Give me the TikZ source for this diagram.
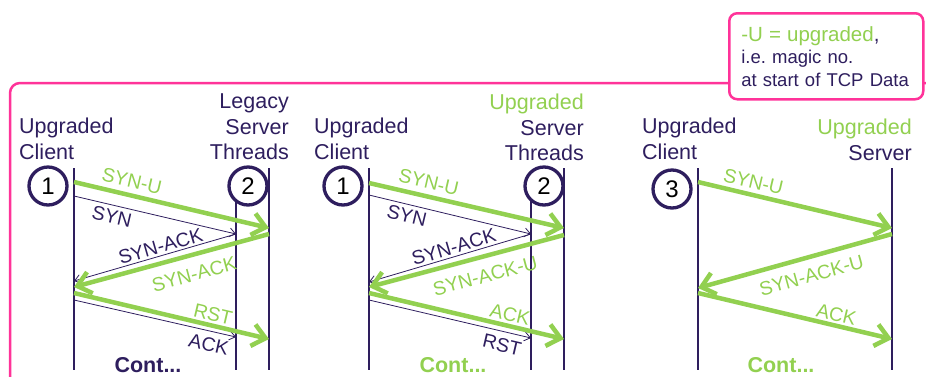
\documentclass[tikz,border=0pt]{standalone}
\usepackage{fontspec}
\setmainfont{Liberation Sans}
\usetikzlibrary{arrows.meta}
\definecolor{ink}{HTML}{2E1E5E}
\definecolor{upg}{HTML}{92D050}
\definecolor{framepink}{HTML}{FF3399}
\newcommand{\partfont}{\fontsize{21.5}{25.5}\selectfont}
\newcommand{\msgfont}{\fontsize{19.5}{21}\selectfont}
\newcommand{\notefont}{\fontsize{18.5}{22.5}\selectfont}
\newcommand{\notehead}{\fontsize{20.5}{22.5}\selectfont}
\newcommand{\numfont}{\fontsize{24}{26}\selectfont}
\frenchspacing

\begin{document}
\begin{tikzpicture}[x=1pt,y=-1pt,
  lifeline/.style={ink, line width=1.8pt},
  bigline/.style={upg, line width=4.5pt},
  bigmsg/.style={bigline, -{Straight Barb[length=13pt,width=22pt]}},
  bigback/.style={bigline, {Straight Barb[length=13pt,width=22pt]}-},
  thinline/.style={ink, line width=0.8pt},
  thinmsg/.style={thinline, -{Straight Barb[length=6pt,width=9pt]}},
  thinback/.style={thinline, {Straight Barb[length=6pt,width=9pt]}-},
  lab/.style={font=\msgfont, sloped, inner sep=1pt},
  part/.style={font=\partfont, text=ink, inner sep=0pt},
  stepnum/.style={circle, draw=ink, line width=3.3pt, fill=white, minimum size=38pt,
                  inner sep=0pt, font=\numfont, text=black},
  cont/.style={font=\partfont\bfseries, inner sep=0pt},
]
\useasboundingbox (0,0) rectangle (926,376);
\clip (0,0) rectangle (926,376);

% outer frame
\draw[framepink, line width=2.5pt, rounded corners=10pt] (10,400) -- (10,83) -- (960,83);

% legend note
\node[draw=framepink, fill=white, line width=2.5pt, rounded corners=8pt,
      anchor=north west, minimum width=192pt, minimum height=86pt,
      text width=170pt, inner xsep=12pt, align=left, font=\notefont, text=ink]
  (note) at (728,12) {{\notehead\color{upg}-U = upgraded}{\notehead,}\\i.e. magic no.\\at start of TCP Data};

% ---------- case 1: upgraded client, legacy server ----------
\node[part, anchor=north west, align=left] (c1lab) at (19,118) {Upgraded\\Client};
\node[part, anchor=north east, align=right] (s1lab) at (289,94) {Legacy\\Server\\Threads};
\coordinate (c1top) at (74,168);  \coordinate (c1bot) at (74,370);
\coordinate (t1top) at (236,200); \coordinate (t1bot) at (236,370);
\coordinate (s1top) at (269,168); \coordinate (s1bot) at (269,370);
\draw[lifeline] (c1top) -- (c1bot);
\draw[lifeline] (t1top) -- (t1bot);
\draw[lifeline] (s1top) -- (s1bot);
\node[stepnum] (n1) at (48,186) {1};
\node[stepnum] (n2) at (248,186) {2};

\coordinate (c1a) at (74,182);  \coordinate (s1a) at (269,228);
\coordinate (c1b) at (74,196);  \coordinate (t1b) at (236,234);
\coordinate (c1c) at (74,281);  \coordinate (t1c) at (236,234);
\coordinate (c1d) at (74,287);  \coordinate (s1d) at (269,234);
\coordinate (c1e) at (74,293);  \coordinate (s1e) at (269,339);
\coordinate (c1f) at (74,300);  \coordinate (t1f) at (236,337);

\draw[thinmsg] (c1b) -- node[lab, pos=.25, below=3pt, text=ink] {SYN} (t1b);
\draw[thinback] (c1c) -- node[lab, pos=.55, above=1pt, text=ink] {SYN-ACK} (t1c);
\draw[thinmsg] (c1f) -- node[lab, pos=.85, below=5pt, text=ink] {ACK} (t1f);
\draw[bigmsg] (c1a) -- node[lab, pos=.28, above=4pt, text=upg] {SYN-U} (s1a);
\draw[bigback] (c1d) -- node[lab, pos=.59, below=9pt, text=upg] {SYN-ACK} (s1d);
\draw[bigmsg] (c1e) -- node[lab, pos=.70, above=1pt, text=upg] {RST} (s1e);
\node[cont, text=ink] (k1) at (148,365) {Cont...};

% ---------- case 2: upgraded client, upgraded server ----------
\node[part, anchor=north west, align=left] (c2lab) at (314,118) {Upgraded\\Client};
\node[part, anchor=north east, align=right] (s2lab) at (584,94) {{\color{upg}Upgraded}\\Server\\Threads};
\coordinate (c2top) at (369,168); \coordinate (c2bot) at (369,370);
\coordinate (t2top) at (531,200); \coordinate (t2bot) at (531,370);
\coordinate (s2top) at (564,168); \coordinate (s2bot) at (564,370);
\draw[lifeline] (c2top) -- (c2bot);
\draw[lifeline] (t2top) -- (t2bot);
\draw[lifeline] (s2top) -- (s2bot);
\node[stepnum] (n3) at (343,186) {1};
\node[stepnum] (n4) at (544,186) {2};

\coordinate (c2a) at (369,183); \coordinate (s2a) at (564,228);
\coordinate (c2b) at (369,195); \coordinate (t2b) at (531,234);
\coordinate (c2c) at (369,282); \coordinate (t2c) at (531,234);
\coordinate (c2d) at (369,287); \coordinate (s2d) at (564,235);
\coordinate (c2e) at (369,293); \coordinate (s2e) at (564,339);
\coordinate (c2f) at (369,300); \coordinate (t2f) at (531,338);

\draw[thinmsg] (c2b) -- node[lab, pos=.25, below=3pt, text=ink] {SYN} (t2b);
\draw[thinback] (c2c) -- node[lab, pos=.54, above=1pt, text=ink] {SYN-ACK} (t2c);
\draw[thinmsg] (c2f) -- node[lab, pos=.84, below=5pt, text=ink] {RST} (t2f);
\draw[bigmsg] (c2a) -- node[lab, pos=.29, above=4pt, text=upg] {SYN-U} (s2a);
\draw[bigback] (c2d) -- node[lab, pos=.57, below=9pt, text=upg] {SYN-ACK-U} (s2d);
\draw[bigmsg] (c2e) -- node[lab, pos=.71, above=1pt, text=upg] {ACK} (s2e);
\node[cont, text=upg] (k2) at (453,365) {Cont...};

% ---------- case 3: upgraded client, upgraded server ----------
\node[part, anchor=north west, align=left] (c3lab) at (642,118) {Upgraded\\Client};
\node[part, anchor=north east, align=right] (s3lab) at (912,119) {{\color{upg}Upgraded}\\Server};
\coordinate (c3top) at (698,168); \coordinate (c3bot) at (698,370);
\coordinate (s3top) at (892,168); \coordinate (s3bot) at (892,370);
\draw[lifeline] (c3top) -- (c3bot);
\draw[lifeline] (s3top) -- (s3bot);
\node[stepnum] (n5) at (672,189) {3};

\coordinate (c3a) at (698,182); \coordinate (s3a) at (892,228);
\coordinate (c3d) at (698,288); \coordinate (s3d) at (892,234);
\coordinate (c3e) at (698,293); \coordinate (s3e) at (892,339);

\draw[bigmsg] (c3a) -- node[lab, pos=.27, above=3pt, text=upg] {SYN-U} (s3a);
\draw[bigback] (c3d) -- node[lab, pos=.56, below=8pt, text=upg] {SYN-ACK-U} (s3d);
\draw[bigmsg] (c3e) -- node[lab, pos=.70, above=1pt, text=upg] {ACK} (s3e);
\node[cont, text=upg] (k3) at (781,365) {Cont...};
\end{tikzpicture}
\end{document}
